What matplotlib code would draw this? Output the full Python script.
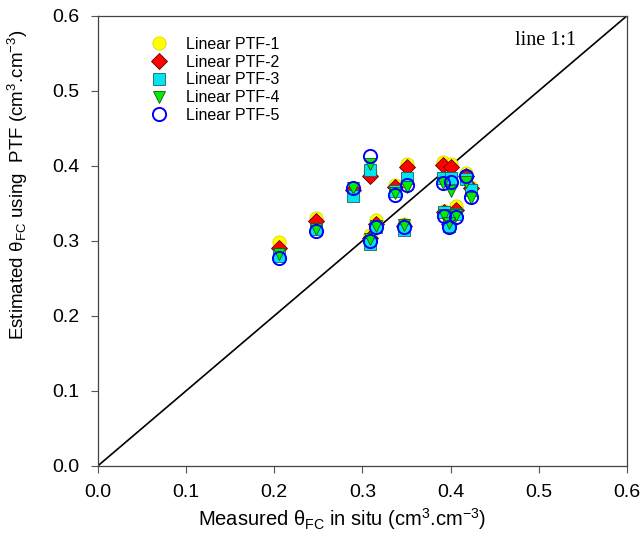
import matplotlib
matplotlib.use("Agg")
import matplotlib.pyplot as plt

plt.rcParams['font.family'] = ['Liberation Sans', 'DejaVu Sans']
plt.rcParams['mathtext.fontset'] = 'custom'
plt.rcParams['mathtext.rm'] = 'Liberation Sans'
plt.rcParams['mathtext.it'] = 'Liberation Sans:italic'
plt.rcParams['mathtext.bf'] = 'Liberation Sans:bold'

# Measured field capacity (in situ), cm3/cm3
measured = [0.205, 0.247, 0.289, 0.309, 0.315, 0.309, 0.337, 0.347, 0.351,
            0.391, 0.400, 0.393, 0.406, 0.398, 0.418, 0.423]

# Estimated field capacity from the five linear PTFs
ptf1 = [0.298, 0.330, 0.370, 0.392, 0.328, 0.308, 0.375, 0.322, 0.403,
        0.405, 0.403, 0.340, 0.346, 0.325, 0.390, 0.372]
ptf2 = [0.290, 0.326, 0.368, 0.386, 0.323, 0.304, 0.372, 0.320, 0.399,
        0.401, 0.399, 0.338, 0.341, 0.322, 0.386, 0.370]
ptf3 = [0.280, 0.316, 0.360, 0.394, 0.318, 0.296, 0.366, 0.315, 0.384,
        0.384, 0.384, 0.339, 0.336, 0.320, 0.382, 0.368]
ptf4 = [0.282, 0.316, 0.370, 0.403, 0.320, 0.302, 0.364, 0.321, 0.372,
        0.377, 0.366, 0.335, 0.335, 0.324, 0.379, 0.357]
ptf5 = [0.277, 0.313, 0.371, 0.413, 0.318, 0.300, 0.361, 0.318, 0.375,
        0.377, 0.379, 0.333, 0.332, 0.319, 0.386, 0.358]

labels = ['Linear PTF-1', 'Linear PTF-2', 'Linear PTF-3', 'Linear PTF-4', 'Linear PTF-5']
series = [ptf1, ptf2, ptf3, ptf4, ptf5]
styles = [
    dict(marker='o', ms=9.5, mfc='#ffff00', mec='#d8d800', mew=0.6),
    dict(marker='D', ms=8, mfc='#ff0000', mec='#600000', mew=0.6),
    dict(marker='s', ms=8, mfc='#00e5ee', mec='#206060', mew=0.6),
    dict(marker='v', ms=9, mfc='#00ee00', mec='#205020', mew=0.6),
    dict(marker='o', ms=9.5, mfc='none', mec='#0000ff', mew=1.4),
]

fig = plt.figure(figsize=(6.43, 5.45), dpi=100)
ax = fig.add_axes([0.152, 0.145, 0.823, 0.826])

ax.plot([0, 0.6], [0, 0.6], color='black', lw=1.2, zorder=1)

for vals, lab, st in zip(series, labels, styles):
    ax.plot(measured, vals, linestyle='none', label=lab, zorder=3, **st)

ax.set_xlim(0, 0.6)
ax.set_ylim(0, 0.6)
ticks = [0.0, 0.1, 0.2, 0.3, 0.4, 0.5, 0.6]
ax.set_xticks(ticks)
ax.set_yticks(ticks)
ax.set_xticklabels([f'{t:.1f}' for t in ticks])
ax.set_yticklabels([f'{t:.1f}' for t in ticks])
ax.tick_params(direction='out', length=5, width=0.8, labelsize=14, pad=8,
               top=False, right=False, color='#555555')
for sp in ax.spines.values():
    sp.set_linewidth(0.9)
    sp.set_color('#444444')

ax.set_xlabel(r'Measured θ$_{\mathrm{FC}}$ in situ (cm$^{3}$.cm$^{-3}$)', fontsize=14.5)
ax.set_ylabel(r'Estimated θ$_{\mathrm{FC}}$ using  PTF (cm$^{3}$.cm$^{-3}$)', fontsize=13.5)
ax.xaxis.set_label_coords(0.461, -0.09, transform=ax.transAxes)
ax.yaxis.set_label_coords(-0.128, 0.624, transform=ax.transAxes)

ax.text(0.473, 0.561, 'line 1:1', family='Liberation Serif', fontsize=14.5)

leg = ax.legend(loc='upper left', bbox_to_anchor=(0.097, 0.953), frameon=False,
                fontsize=11.5, handletextpad=1.1, labelspacing=0.17,
                handlelength=1.2, borderaxespad=0, borderpad=0)

fig.savefig('out.png', dpi=100)
